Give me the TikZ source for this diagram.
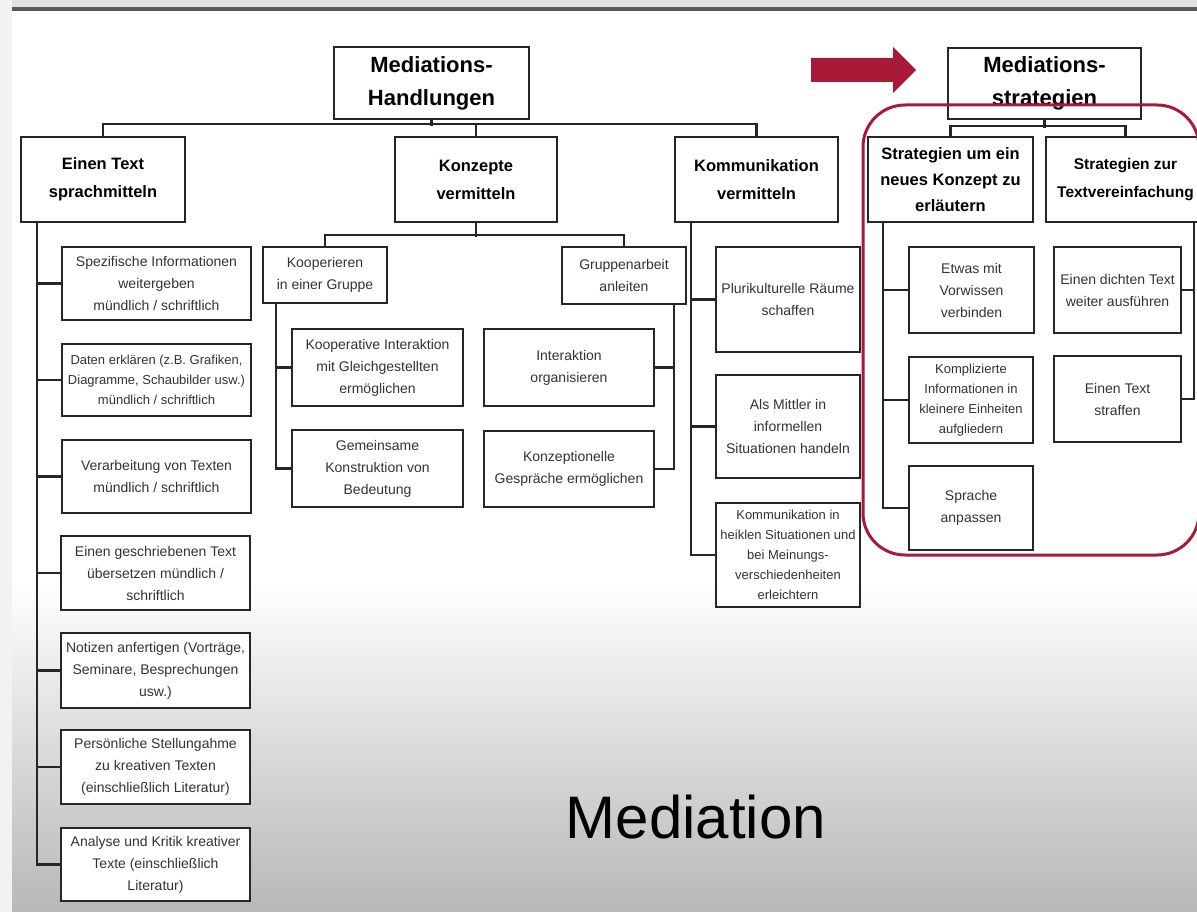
\documentclass[tikz,border=0pt]{standalone}
\usepackage{fontspec}
\setmainfont{Liberation Sans}
\usetikzlibrary{calc}
\usetikzlibrary{positioning}
\definecolor{weinrot}{RGB}{168,26,56}
\tikzset{
  kasten/.style={draw=black!85, line width=1.8pt, fill=white, inner sep=1pt, align=center, text=black!80, font=\fontsize{14}{22}\selectfont},
  eng/.style={font=\fontsize{13}{20}\selectfont},
  kopf/.style={kasten, text=black, font=\bfseries\fontsize{16.5}{28}\selectfont},
  titel/.style={kasten, text=black, line width=1.5pt, font=\bfseries\fontsize{22}{33}\selectfont},
  linie/.style={draw=black!85, line width=2.2pt},
}

\begin{document}
\begin{tikzpicture}[x=1pt, y=-1pt]
        \useasboundingbox (0,0) rectangle (1197,912);
        \fill[white] (0,0) rectangle (1197,912);
        \shade[top color=white, bottom color=black!28] (0,580) rectangle (1197,912);
        \fill[black!5] (0,0) rectangle (12,912);
        \fill[black!12] (12,0) rectangle (1197,7);
        \fill[black!65] (12,7) rectangle (1197,11);

        \node[titel, minimum width=195pt, minimum height=72pt] (MH) at (431.5,83) {Mediations-\\Handlungen};
        \node[kopf, minimum width=164pt, minimum height=85pt] (ET) at (103,179.5) {Einen Text\\sprachmitteln};
        \node[kopf, minimum width=162pt, minimum height=85pt] (KV) at (476,179.5) {Konzepte\\vermitteln};
        \node[kopf, minimum width=163pt, minimum height=85pt] (KoV) at (756.5,179.5) {Kommunikation\\vermitteln};
        \node[titel, minimum width=193pt, minimum height=71pt] (MS) at (1044.5,83.5) {Mediations-\\strategien};
        \node[kopf, minimum width=165pt, minimum height=85pt, font=\bfseries\fontsize{16.5}{26}\selectfont] (SU) at (950.5,179.5) {Strategien um ein\\neues Konzept zu\\erläutern};
        \node[kopf, minimum width=159pt, minimum height=85pt, font=\bfseries\fontsize{15.5}{28}\selectfont] (SZ) at (1125.5,179.5) {Strategien zur\\Textvereinfachung};

        \node[kasten, minimum width=189pt, minimum height=73pt] (A1) at (156.5,283.5) {Spezifische Informationen\\weitergeben\\mündlich / schriftlich};
        \node[kasten, eng, minimum width=189pt, minimum height=72pt] (A2) at (156.5,380) {Daten erklären (z.B. Grafiken,\\Diagramme, Schaubilder usw.)\\mündlich / schriftlich};
        \node[kasten, minimum width=189pt, minimum height=73pt] (A3) at (156.5,476.5) {Verarbeitung von Texten\\mündlich / schriftlich};
        \node[kasten, minimum width=189pt, minimum height=74pt] (A4) at (155.5,573) {Einen geschriebenen Text\\übersetzen mündlich /\\schriftlich};
        \node[kasten, minimum width=189pt, minimum height=75pt] (A5) at (155.5,670.5) {Notizen anfertigen (Vorträge,\\Seminare, Besprechungen\\usw.)};
        \node[kasten, minimum width=189pt, minimum height=74pt] (A6) at (155.5,767) {Persönliche Stellungahme\\zu kreativen Texten\\(einschließlich Literatur)};
        \node[kasten, minimum width=189pt, minimum height=73pt] (A7) at (155.5,864.5) {Analyse und Kritik kreativer\\Texte (einschließlich\\Literatur)};

        \node[kasten, minimum width=124pt, minimum height=56pt] (KG) at (325,275) {Kooperieren\\in einer Gruppe};
        \node[kasten, minimum width=124pt, minimum height=57pt] (GA) at (624,275.5) {Gruppenarbeit\\anleiten};
        \node[kasten, minimum width=171pt, minimum height=77pt] (KI1) at (377.5,367.5) {Kooperative Interaktion\\mit Gleichgestellten\\ermöglichen};
        \node[kasten, minimum width=171pt, minimum height=77pt] (KI2) at (377.5,468.5) {Gemeinsame\\Konstruktion von\\Bedeutung};
        \node[kasten, minimum width=170pt, minimum height=77pt] (IO1) at (569,367.5) {Interaktion\\organisieren};
        \node[kasten, minimum width=170pt, minimum height=76pt] (IO2) at (569,469) {Konzeptionelle\\Gespräche ermöglichen};

        \node[kasten, minimum width=144pt, minimum height=105pt] (KM1) at (788,299.5) {Plurikulturelle Räume\\schaffen};
        \node[kasten, minimum width=144pt, minimum height=103pt] (KM2) at (788,426.5) {Als Mittler in\\informellen\\Situationen handeln};
        \node[kasten, eng, minimum width=144pt, minimum height=104pt] (KM3) at (788,555) {Kommunikation in\\heiklen Situationen und\\bei Meinungs-\\verschiedenheiten\\erleichtern};

        \node[kasten, minimum width=125pt, minimum height=86pt] (SE1) at (971.5,290) {Etwas mit\\Vorwissen\\verbinden};
        \node[kasten, eng, minimum width=124pt, minimum height=86pt] (SE2) at (971,400) {Komplizierte\\Informationen in\\kleinere Einheiten\\aufgliedern};
        \node[kasten, minimum width=124pt, minimum height=84pt] (SE3) at (971,508) {Sprache\\anpassen};
        \node[kasten, minimum width=127pt, minimum height=86pt] (ST1) at (1117.5,290) {Einen dichten Text\\weiter ausführen};
        \node[kasten, minimum width=127pt, minimum height=86pt] (ST2) at (1117.5,399) {Einen Text\\straffen};

        \draw[linie] (MH.south) -- ++(0,6);
        \draw[linie] (ET.north) -- ++(0,-12) -| (KoV.north);
        \draw[linie] (KV.north) -- ++(0,-12);
        \draw[linie] (MS.south) -- ++(0,8);
        \draw[linie] (SU.north) -- ++(0,-10) -| (SZ.north);

        \coordinate (etL) at ($(ET.south west)+(17,0)$);
        \draw[linie] (etL) |- (A7.west);
        \foreach \n in {A1,A2,A3,A4,A5,A6}
          \draw[linie] (\n.west) -- (\n.west -| etL);

        \draw[linie] (KV.south) -- ++(0,14);
        \draw[linie] (KG.north) -- ++(0,-11) -| (GA.north);
        \coordinate (kgL) at ($(KG.south west)+(14,0)$);
        \draw[linie] (kgL) |- (KI2.west);
        \draw[linie] (KI1.west) -- (KI1.west -| kgL);
        \coordinate (gaR) at ($(GA.south east)+(-13,0)$);
        \draw[linie] (gaR) |- (IO2.east);
        \draw[linie] (IO1.east) -- (IO1.east -| gaR);

        \coordinate (koL) at ($(KoV.south west)+(17,0)$);
        \draw[linie] (koL) |- (KM3.west);
        \foreach \n in {KM1,KM2}
          \draw[linie] (\n.west) -- (\n.west -| koL);

        \coordinate (suL) at ($(SU.south west)+(16,0)$);
        \draw[linie] (suL) |- (SE3.west);
        \foreach \n in {SE1,SE2}
          \draw[linie] (\n.west) -- (\n.west -| suL);
        \coordinate (szR) at ($(SZ.south east)+(-12,0)$);
        \draw[linie] (szR) |- (ST2.east);
        \draw[linie] (ST1.east) -- (ST1.east -| szR);

        \draw[weinrot, line width=3pt, rounded corners=42pt] (863,105) rectangle (1199,555);
        \fill[weinrot] (811,58) -- (893,58) -- (893,47) -- (916,70) -- (893,93) -- (893,82) -- (811,82) -- cycle;

        \node[font=\fontsize{60}{60}\selectfont] (mediation) at (696,817) {Mediation};
      \end{tikzpicture}
\end{document}
